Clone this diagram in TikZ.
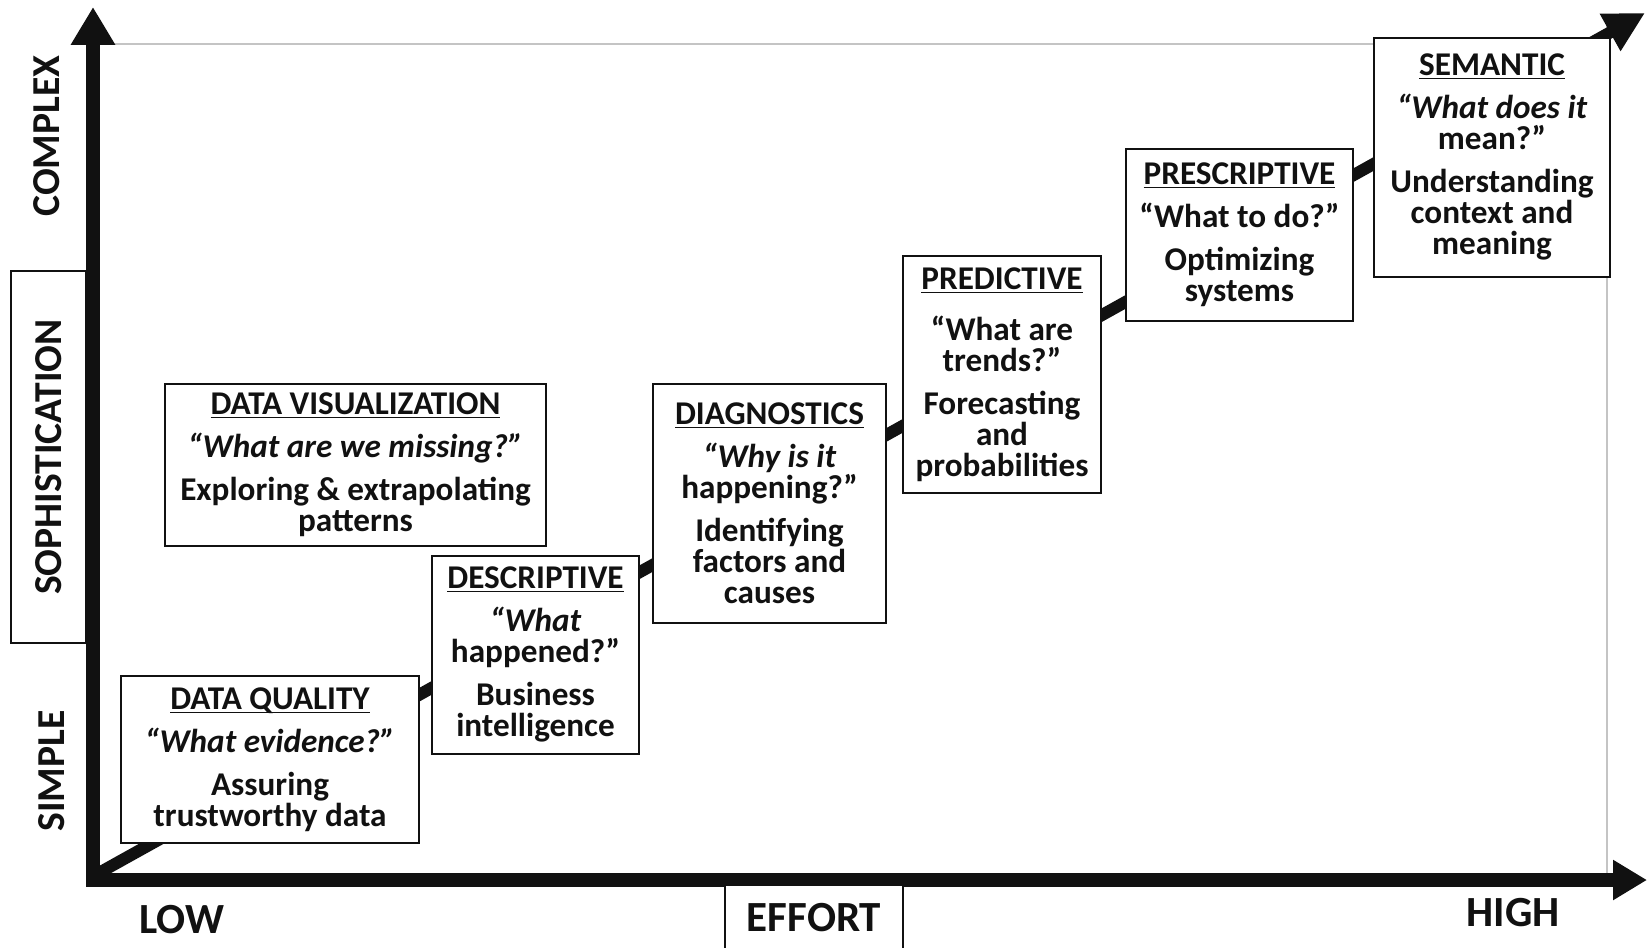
\documentclass[tikz,border=0pt]{standalone}
\usepackage{fontspec}
\setmainfont{Carlito}
\usetikzlibrary{arrows.meta}
\definecolor{inkblack}{HTML}{111111}
\definecolor{framegray}{HTML}{C4C4C4}
\tikzset{
  stagebox/.style={draw=inkblack,line width=1.2pt,fill=white,align=center,inner sep=2pt,font=\fontsize{16.6}{15.5}\selectfont\bfseries,text=inkblack},
  tagbox/.style={draw=inkblack,line width=1.2pt,fill=white,inner sep=2pt,font=\fontsize{21.5}{21.5}\selectfont\bfseries,text=inkblack},
  axislabel/.style={font=\fontsize{21.5}{21.5}\selectfont\bfseries,text=inkblack},
  sidelabel/.style={font=\fontsize{19.8}{19.8}\selectfont\bfseries,text=inkblack},
  axisline/.style={line width=7pt,draw=inkblack,{Triangle[length=19pt,width=21pt]}-{Triangle[length=17pt,width=19pt]}},
  trendline/.style={line width=6pt,draw=inkblack,-{Triangle[length=20pt,width=20pt]}},
  frameline/.style={line width=1pt,draw=framegray},
}
% title with a tight underline, then the question in italics
\newcommand{\stagetitle}[1]{\underline{\smash{#1}}\vphantom{A}\\[6pt]}
\newcommand{\stageask}[1]{\itshape #1\\[6pt]\upshape}

\begin{document}
\begin{tikzpicture}[x=0.5pt,y=-0.5pt]
  \useasboundingbox (0,0) rectangle (1647,947);

  % light frame behind the plot
  \draw[frameline] (100,44) -- (1607,44);
  \draw[frameline] (1607,18) -- (1607,880);

  % rising trend behind the stages
  \coordinate (origin) at (97,874);
  \coordinate (trendtip) at (1645,13);
  \draw[trendline] (origin) -- (trendtip);

  % stages
  \node[stagebox,minimum width=190.5pt,minimum height=81pt] (datavis) at (355.5,465)
    {\stagetitle{DATA VISUALIZATION}\stageask{“What are we missing?”}Exploring \& extrapolating\\patterns};
  \node[stagebox,minimum width=149pt,minimum height=83.5pt] (quality) at (270,759.5)
    {\stagetitle{DATA QUALITY}\stageask{“What evidence?”}Assuring\\trustworthy data};
  \node[stagebox,minimum width=103.5pt,minimum height=99pt] (descriptive) at (535.5,655)
    {\stagetitle{DESCRIPTIVE}\itshape “What\\happened?”\\[6pt]\upshape Business\\intelligence};
  \node[stagebox,minimum width=116.5pt,minimum height=119.5pt] (diagnostics) at (769.5,503.5)
    {\stagetitle{DIAGNOSTICS}\itshape “Why is it\\happening?”\\[6pt]\upshape Identifying\\factors and\\causes};
  \node[stagebox,minimum width=99pt,minimum height=118.5pt] (predictive) at (1002,374.5)
    {\underline{\smash{PREDICTIVE}}\vphantom{A}\\[10pt]“What are\\trends?”\\[6pt]Forecasting\\and\\probabilities};
  \node[stagebox,minimum width=113.5pt,minimum height=86pt] (prescriptive) at (1239.5,235)
    {\stagetitle{PRESCRIPTIVE}“What to do?”\\[6pt]Optimizing\\systems};
  \node[stagebox,minimum width=118pt,minimum height=119.5pt] (semantic) at (1492,157.5)
    {\stagetitle{SEMANTIC}\itshape “What does it\\mean?”\\[6pt]\upshape Understanding\\context and\\meaning};

  % axes
  \coordinate (ytip) at (93,7);
  \coordinate (corner) at (93,880);
  \coordinate (xtip) at (1647,880);
  \draw[axisline,line join=miter] (ytip) -- (corner) -- (xtip);

  % axis labels
  \node[tagbox,sidelabel,rotate=90,minimum width=186pt,minimum height=37.5pt] (sophistication) at (48.5,457) {SOPHISTICATION};
  \node[sidelabel,rotate=90] (complex) at (47,136) {COMPLEX};
  \node[sidelabel,rotate=90] (simple) at (52,771) {SIMPLE};
  \node[axislabel] (low) at (182,920) {LOW};
  \node[axislabel] (high) at (1513,913) {HIGH};
  \node[tagbox,minimum width=89pt,minimum height=32.5pt] (effort) at (814,917.5) {EFFORT};
\end{tikzpicture}
\end{document}
